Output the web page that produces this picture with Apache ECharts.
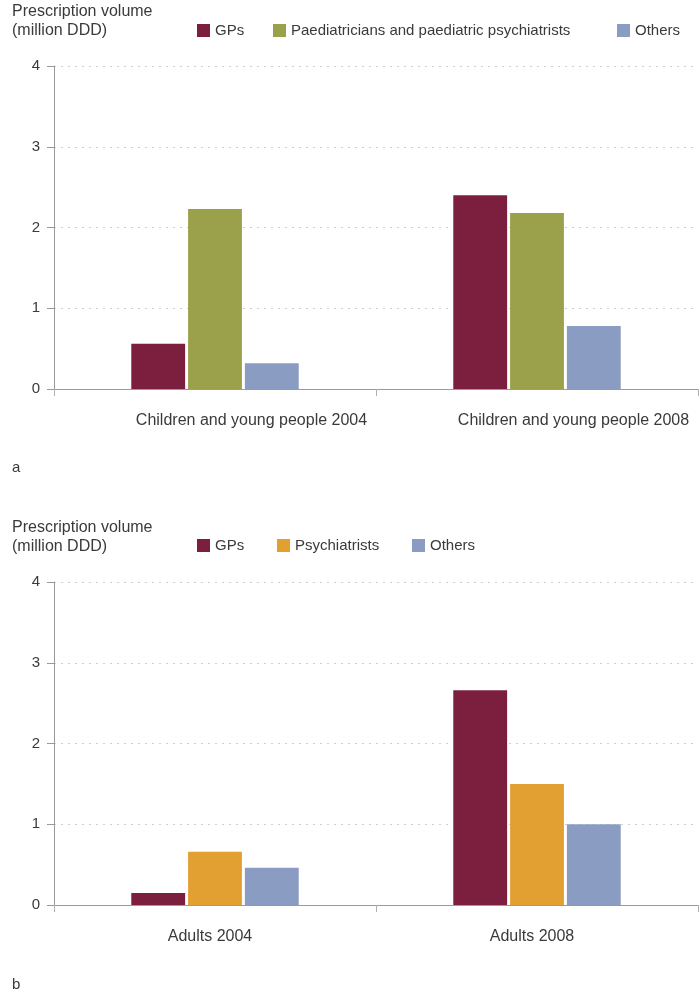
<!DOCTYPE html>
<html>
<head>
<meta charset="utf-8">
<script src="https://cdn.jsdelivr.net/npm/echarts@6/dist/echarts.min.js"></script>
<style>
  html, body { margin: 0; padding: 0; background: #fff; }
  #chart { width: 700px; height: 993px; }
</style>
</head>
<body>
<div id="chart"></div>
<script>
// panel a: children and young people
var catsA = ['Children and young people 2004', 'Children and young people 2008'];
var gpA = [0.56, 2.40];
var paedA = [2.23, 2.18];
var othersA = [0.32, 0.78];

// panel b: adults
var catsB = ['Adults 2004', 'Adults 2008'];
var gpB = [0.15, 2.66];
var psychB = [0.66, 1.50];
var othersB = [0.46, 1.00];

var yMin = 0, yMax = 4, yStep = 1;

var FONT = "'Liberation Sans', Arial, sans-serif";
var TXT = '#3a3a3a';
var colGP = '#7c1f3e', colPaed = '#9ba14a', colPsych = '#e2a033', colOth = '#8a9cc2';

var chart = echarts.init(document.getElementById('chart'));

function yAxis(gi) {
    return {
        type: 'value', gridIndex: gi, min: yMin, max: yMax, interval: yStep,
        axisLine: { show: true, lineStyle: { color: '#9a9a9a' } },
        axisTick: { show: true, length: 7, lineStyle: { color: '#9a9a9a' } },
        axisLabel: { color: TXT, fontSize: 15, fontFamily: FONT, margin: 14 },
        splitLine: { show: true, lineStyle: { color: '#cfcfcf', type: [2, 5] } }
    };
}

// main category axis (ticks sit a little below the zero line)
function xAxis(gi, cats, pad) {
    return {
        type: 'category', gridIndex: gi, data: cats, position: 'bottom', offset: 8,
        axisLine: { show: false },
        axisTick: { show: true, length: 7, lineStyle: { color: '#b0b0b0' } },
        axisLabel: { color: TXT, fontSize: 16, fontFamily: FONT, margin: 16, padding: pad }
    };
}

// plain line at zero
function zeroAxis(gi, cats) {
    return {
        type: 'category', gridIndex: gi, data: cats, position: 'bottom', offset: 0,
        axisLine: { show: true, lineStyle: { color: '#9a9a9a' } },
        axisTick: { show: false }, axisLabel: { show: false }
    };
}

function bar(name, data, color, gi) {
    return {
        name: name, type: 'bar', data: data, xAxisIndex: gi * 2, yAxisIndex: gi,
        itemStyle: { color: color },
        barGap: '5.5%', barCategoryGap: '48%'
    };
}

function leg(name, left, top) {
    return {
        data: [name], left: left, top: top, icon: 'rect', itemWidth: 13, itemHeight: 13,
        selectedMode: false,
        textStyle: { color: TXT, fontSize: 15, fontFamily: FONT }
    };
}

var titleStyle = { color: TXT, fontSize: 16, fontFamily: FONT, fontWeight: 'normal', lineHeight: 19 };
var tagStyle = { color: TXT, fontSize: 15, fontFamily: FONT, fontWeight: 'normal' };

chart.setOption({
    animation: false,
    title: [
        { text: 'Prescription volume\n(million DDD)', left: 7, top: -3, textStyle: titleStyle },
        { text: 'Prescription volume\n(million DDD)', left: 7, top: 513, textStyle: titleStyle },
        { text: 'a', left: 7, top: 455, textStyle: tagStyle },
        { text: 'b', left: 7, top: 972, textStyle: tagStyle }
    ],
    legend: [
        leg('GPs', 192, 18),
        leg('Paediatricians and paediatric psychiatrists', 268, 18),
        leg('Others', 612, 18),
        leg('GPs', 192, 533),
        leg('Psychiatrists', 272, 533),
        leg('Others', 407, 533)
    ],
    grid: [
        { left: 54, right: 2, top: 66, height: 323 },
        { left: 54, right: 2, top: 582, height: 323 }
    ],
    xAxis: [
        xAxis(0, catsA, [0, 0, 0, 73]), zeroAxis(0, catsA),
        xAxis(1, catsB, [0, 10, 0, 0]), zeroAxis(1, catsB)
    ],
    yAxis: [yAxis(0), yAxis(1)],
    series: [
        bar('GPs', gpA, colGP, 0),
        bar('Paediatricians and paediatric psychiatrists', paedA, colPaed, 0),
        bar('Others', othersA, colOth, 0),
        bar('GPs', gpB, colGP, 1),
        bar('Psychiatrists', psychB, colPsych, 1),
        bar('Others', othersB, colOth, 1)
    ]
});
</script>
</body>
</html>
